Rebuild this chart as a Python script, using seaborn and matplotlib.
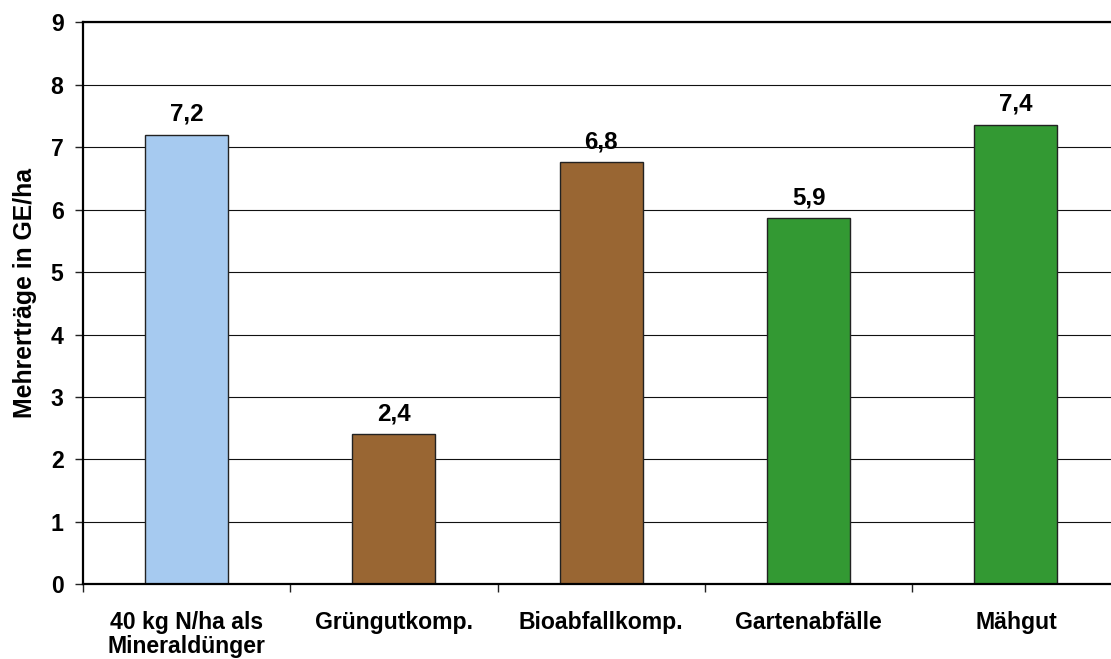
import matplotlib
matplotlib.use("Agg")
import matplotlib.pyplot as plt
import seaborn as sns
from matplotlib.ticker import FixedLocator

# Data
categories = ["40 kg N/ha als\nMineraldünger", "Grüngutkomp.", "Bioabfallkomp.",
              "Gartenabfälle", "Mähgut"]
values = [7.2, 2.4, 6.76, 5.86, 7.36]
bar_colors = ["#A6CAF0", "#996633", "#996633", "#339933", "#339933"]
y_ticks = list(range(0, 10))
y_label = "Mehrerträge in GE/ha"

sns.set_style("white")
plt.rcParams["font.family"] = ["Liberation Sans", "DejaVu Sans"]
plt.rcParams["font.weight"] = "bold"
plt.rcParams["text.color"] = "black"
plt.rcParams["axes.labelcolor"] = "black"
plt.rcParams["xtick.labelcolor"] = "black"
plt.rcParams["ytick.labelcolor"] = "black"

fig = plt.figure(figsize=(11.11, 6.59), dpi=100)
ax = fig.add_axes([0.0747, 0.1134, 0.933, 0.8525])

sns.barplot(x=categories, y=values, hue=categories, palette=bar_colors,
            legend=False, width=0.4, saturation=1, edgecolor="#222222",
            linewidth=1.0, ax=ax, zorder=3)

ax.set_xlim(-0.5, len(categories) - 0.5)
ax.set_ylim(0, 9)
ax.set_yticks(y_ticks)
ax.set_yticklabels([str(t) for t in y_ticks], fontsize=16.6, fontweight="bold",
                   color="black")

# Horizontal grid
ax.set_axisbelow(True)
for t in y_ticks[1:]:
    ax.axhline(t, color="#111111", lw=0.8, zorder=1)

# Category labels centered, tick marks at category boundaries
ax.set_xticks(range(len(categories)))
ax.set_xticklabels(categories, fontsize=16.6, fontweight="bold", linespacing=1.05,
                   color="black")
ax.tick_params(axis="x", which="major", length=0, pad=19)
ax.xaxis.set_minor_locator(FixedLocator([i - 0.5 for i in range(len(categories) + 1)]))
ax.tick_params(axis="x", which="minor", length=5.5, width=1.0, color="#222222",
               direction="out", bottom=True)
ax.tick_params(axis="y", length=6, width=1.0, color="#222222", direction="out",
               pad=8, left=True)

for side in ["left", "bottom", "top"]:
    ax.spines[side].set_visible(True)
    ax.spines[side].set_color("black")
    ax.spines[side].set_linewidth(1.6)
    ax.spines[side].set_zorder(5)
ax.spines["right"].set_visible(False)

ax.set_xlabel("")
ax.set_ylabel(y_label, fontsize=17.8, fontweight="bold", color="black")
ax.yaxis.set_label_coords(-0.0445, 0.518)

# Value labels above bars
for i, v in enumerate(values):
    ax.annotate(f"{v:.1f}".replace(".", ","), xy=(i, v), xytext=(0, 10),
                textcoords="offset points", ha="center", va="baseline",
                fontsize=17.4, fontweight="bold", color="black", zorder=6)

fig.savefig("out.png", dpi=100)
